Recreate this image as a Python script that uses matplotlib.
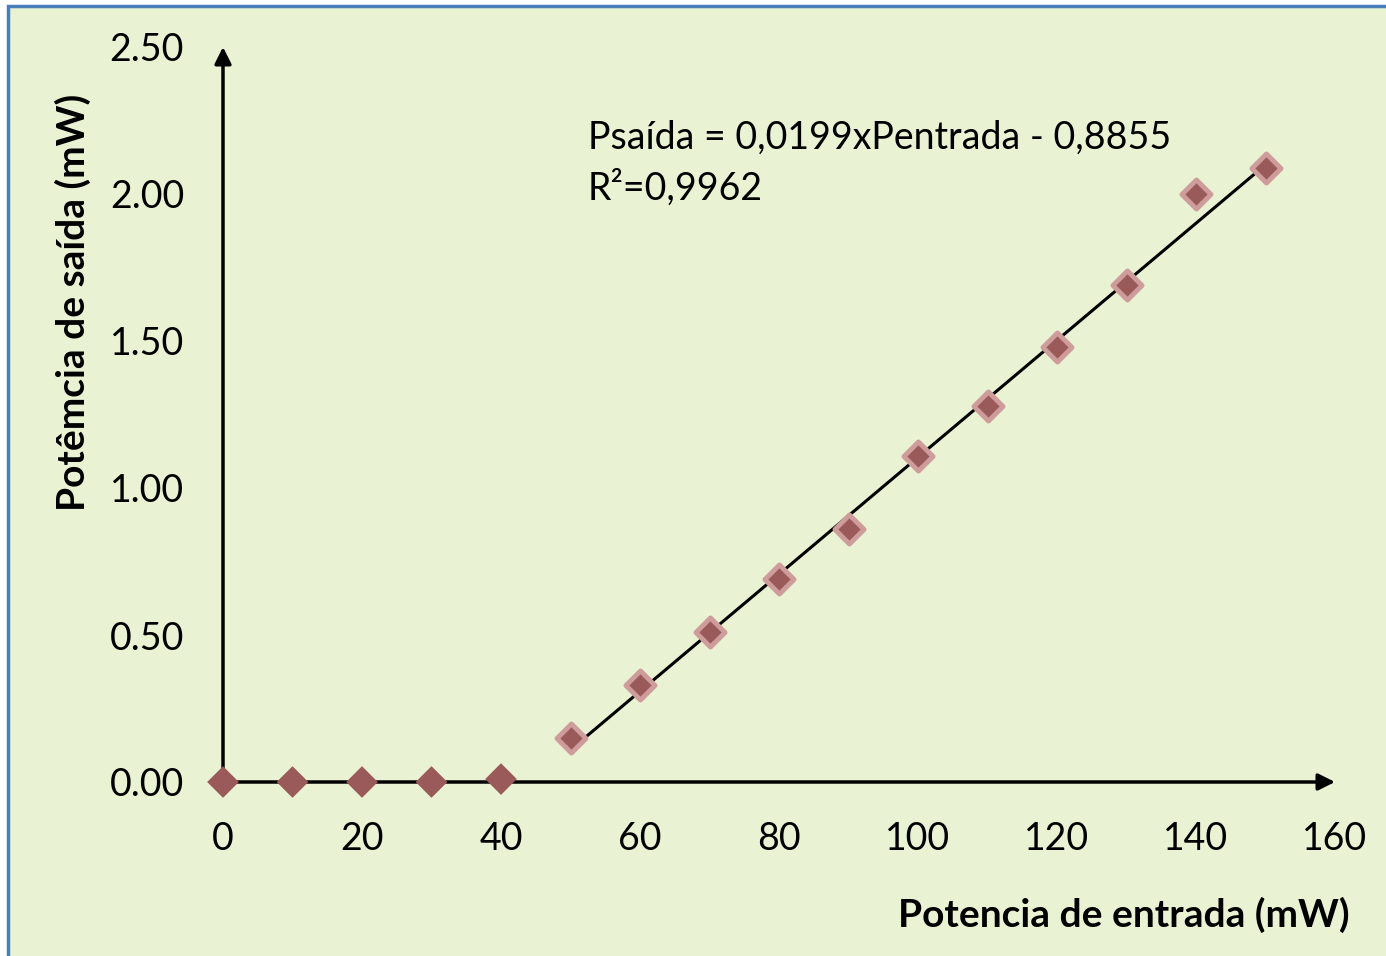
import matplotlib
matplotlib.use('Agg')
import matplotlib.pyplot as plt
from matplotlib.patches import Rectangle

plt.rcParams['font.family'] = ['Lato', 'DejaVu Sans']

# data
p_entrada = [0, 10, 20, 30, 40, 50, 60, 70, 80, 90, 100, 110, 120, 130, 140, 150]
p_saida = [0.00, 0.00, 0.00, 0.00, 0.01, 0.15, 0.33, 0.51, 0.69, 0.86, 1.11, 1.28, 1.48, 1.69, 2.00, 2.09]
x_ticks = [0, 20, 40, 60, 80, 100, 120, 140, 160]
y_ticks = [0.0, 0.5, 1.0, 1.5, 2.0, 2.5]
slope, intercept = 0.0199, -0.8855
fit_range = [50, 150]

bg = '#E9F2D3'
marker_col = '#9B5A5A'
edge_col = '#CF9C9C'

fig = plt.figure(figsize=(13.86, 9.56), dpi=100)
fig.patch.set_facecolor('white')
fig.patches.append(Rectangle((8/1386, -0.05), 1.05, 1 - 6/956 + 0.05, transform=fig.transFigure,
                             facecolor=bg, edgecolor='#4A7EBB', linewidth=2.5, zorder=-5))

ax = fig.add_axes([223/1386, (956-782)/956, (1335-223)/1386, 735/956])
ax.set_zorder(2)
ax.set_facecolor('none')
ax.set_xlim(0, 160)
ax.set_ylim(0, 2.5)
for s in ax.spines.values():
    s.set_visible(False)

# axes drawn as arrows
ax.annotate('', xy=(160, 0), xytext=(0, 0), annotation_clip=False,
            arrowprops=dict(arrowstyle='-|>', color='black', lw=2.5, mutation_scale=25, shrinkA=0, shrinkB=0))
ax.annotate('', xy=(0, 2.5), xytext=(0, 0), annotation_clip=False,
            arrowprops=dict(arrowstyle='-|>', color='black', lw=2.5, mutation_scale=25, shrinkA=0, shrinkB=0))

ax.set_xticks(x_ticks)
ax.set_yticks(y_ticks)
ax.set_yticklabels(['%.2f' % v for v in y_ticks])
ax.tick_params(length=0, labelsize=27, pad=0)
ax.tick_params(axis='x', pad=28)
ax.tick_params(axis='y', pad=28)

# trend line
fx = fit_range
fy = [slope * v + intercept for v in fx]
ax.plot(fx, fy, color='black', lw=2.2, zorder=3)

n0 = 5
ax.scatter(p_entrada[:n0], p_saida[:n0], marker='D', s=260, color=marker_col, edgecolors='none', zorder=4, clip_on=False)
ax.scatter(p_entrada[n0:], p_saida[n0:], marker='D', s=220, color=marker_col, edgecolors=edge_col,
           linewidths=3.5, zorder=4, clip_on=False)

ax.text(52.5, 2.19, 'Psaída = 0,0199xPentrada - 0,8855', fontsize=27, va='center', ha='left')
ax.text(52.5, 2.02, 'R²=0,9962', fontsize=27, va='center', ha='left')

fig.text(1350/1386, 1 - 915/956, 'Potencia de entrada (mW)', fontsize=28, fontweight='bold',
         ha='right', va='center')
fig.text(73/1386, 1 - 302/956, 'Potêmcia de saída (mW)', fontsize=28, fontweight='bold',
         ha='center', va='center', rotation=90)

fig.savefig('out.png', dpi=100, facecolor='white')
